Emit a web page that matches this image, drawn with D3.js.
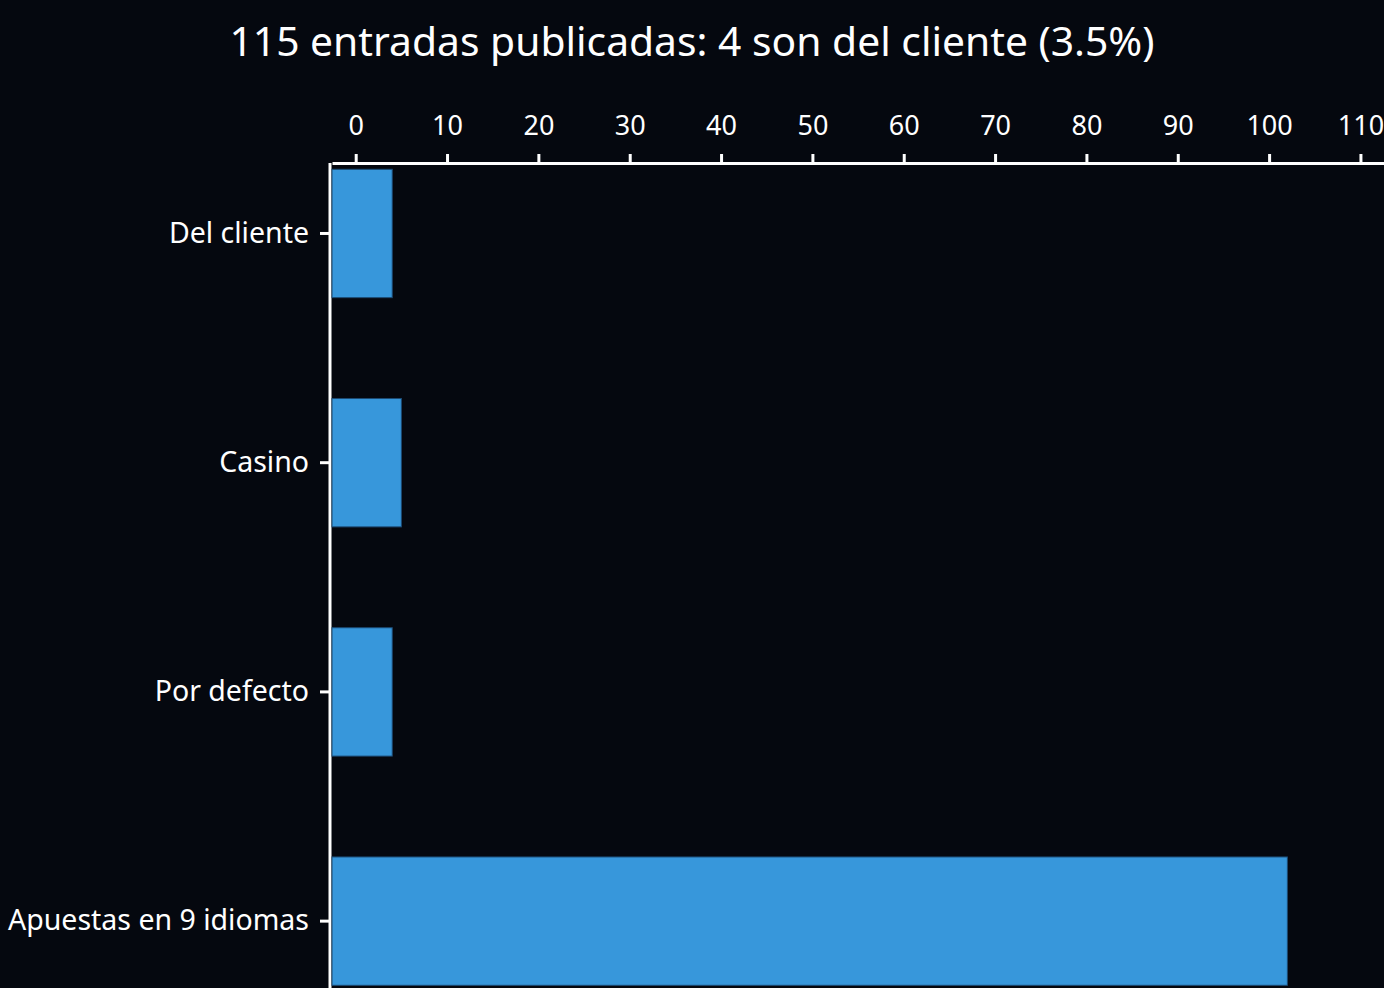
<!DOCTYPE html>
<html>
<head>
<meta charset="utf-8">
<script src="https://cdn.jsdelivr.net/npm/d3@7"></script>
<style>
  body { margin: 0; background: #ffffff; }
  #chart { width: 1384px; height: 988px; }
  text { font-family: "Noto Sans", "Open Sans", sans-serif; }
</style>
</head>
<body>
<div id="chart"></div>
<script>
// chart values
const categories = ["Del cliente", "Casino", "Por defecto", "Apuestas en 9 idiomas"];
const counts = [4, 5, 4, 102];
const tickValues = [0, 10, 20, 30, 40, 50, 60, 70, 80, 90, 100, 110];
const titleText = "115 entradas publicadas: 4 son del cliente (3.5%)";

const width = 1384, height = 988;
const margin = {top: 163, left: 330};
const unit = 9.134; // px per entry

const svg = d3.select("#chart").append("svg")
    .attr("width", width)
    .attr("height", height);

svg.append("rect")
    .attr("width", width)
    .attr("height", height)
    .attr("fill", "#05080f");

svg.append("text")
    .attr("x", width / 2)
    .attr("y", 56)
    .attr("text-anchor", "middle")
    .attr("fill", "#ffffff")
    .attr("font-size", 40.8)
    .text(titleText);

const g = svg.append("g")
    .attr("transform", `translate(${margin.left},${margin.top})`);

// zero sits a bit right of the axis line
const x0 = 25.7;
const xScale = d3.scaleLinear()
    .domain([(2 - x0) / unit, (width - margin.left - x0) / unit])
    .range([2, width - margin.left]);

const yScale = d3.scaleBand()
    .domain(categories)
    .range([164.7 - margin.top, 989.9 - margin.top])
    .paddingInner(0.44)
    .paddingOuter(0.02);

const xAxis = g.append("g")
    .attr("class", "x axis")
    .call(d3.axisTop(xScale)
        .tickValues(tickValues)
        .tickSize(9)
        .tickSizeOuter(0)
        .tickPadding(19)
        .tickFormat(d3.format("d")));

const yAxis = g.append("g")
    .attr("class", "y axis")
    .call(d3.axisLeft(yScale)
        .tickSize(10)
        .tickSizeOuter(0)
        .tickPadding(11));

g.selectAll(".axis path, .axis line")
    .attr("stroke", "#ffffff")
    .attr("stroke-width", 3);
xAxis.selectAll("text")
    .attr("fill", "#ffffff")
    .attr("font-size", 27)
    .attr("font-family", "'Noto Sans', 'Open Sans', sans-serif");
yAxis.selectAll("text")
    .attr("fill", "#ffffff")
    .attr("font-size", 28.5)
    .attr("font-family", "'Noto Sans', 'Open Sans', sans-serif");

// y axis line runs down past the bottom
yAxis.select(".domain")
    .attr("d", `M0,0V${height}`);

g.selectAll(".bar")
    .data(counts)
    .enter().append("rect")
    .attr("class", "bar")
    .attr("x", 2)
    .attr("y", (d, i) => yScale(categories[i]))
    .attr("width", d => xScale(d) - 2)
    .attr("height", yScale.bandwidth())
    .attr("fill", "#3797db")
    .attr("stroke", "#1c4a73")
    .attr("stroke-width", 1);
</script>
</body>
</html>
